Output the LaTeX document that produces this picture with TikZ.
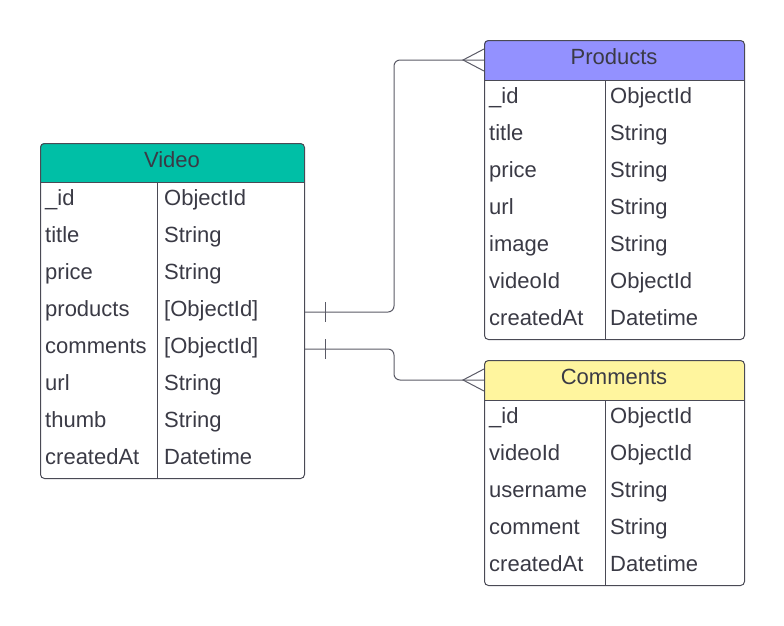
\documentclass[tikz,border=0pt]{standalone}
\usepackage{fontspec}
\setmainfont{Liberation Sans}
\usetikzlibrary{calc}
\definecolor{vidc}{HTML}{00BFA6}
\definecolor{prodc}{HTML}{9391FF}
\definecolor{comc}{HTML}{FFF59E}
\definecolor{txtc}{HTML}{3A3A45}
\definecolor{edgec}{HTML}{4A4A55}
\definecolor{connc}{HTML}{5A5A66}
\begin{document}
\begin{tikzpicture}[x=1pt,y=-1pt,
  font=\fontsize{22}{26}\selectfont,
  frame/.style={draw=edgec, line width=1pt, rounded corners=4pt, inner sep=0pt, anchor=north west},
  cell/.style={text=txtc, anchor=base west, inner sep=0pt, text height=16pt, text depth=5pt},
  hdrtext/.style={text=txtc, anchor=base, inner sep=0pt, text height=16pt, text depth=5pt},
  sep/.style={draw=edgec, line width=1pt},
  conn/.style={draw=connc, line width=1pt},
]
\useasboundingbox (0,0) rectangle (784,625);

% ---------- Video ----------
\fill[vidc, rounded corners=4pt] (40,143) rectangle (304,182);
\fill[vidc] (40,170) rectangle (304,182);
\node[frame, minimum width=264pt, minimum height=335pt] (videoT) at (40,143) {};
\node[hdrtext] (videoH) at (172,167) {Video};
\draw[sep] (40,182) -- (304,182);
\draw[sep] (157,182) -- (157,478);
\foreach \f/\t [count=\i] in {\_id/ObjectId, title/String, price/String, products/{[ObjectId]}, comments/{[ObjectId]}, url/String, thumb/String, createdAt/Datetime}{
  \node[cell] (video-f\i) at (45,{182+37*(\i-1)+23.5}) {\f};
  \node[cell] (video-t\i) at (164,{182+37*(\i-1)+23.5}) {\t};
}

% ---------- Products ----------
\fill[prodc, rounded corners=4pt] (484,40) rectangle (744,80);
\fill[prodc] (484,68) rectangle (744,80);
\node[frame, minimum width=260pt, minimum height=299pt] (prodT) at (484,40) {};
\node[hdrtext] (prodH) at (614,64) {Products};
\draw[sep] (484,80) -- (744,80);
\draw[sep] (605,80) -- (605,339);
\foreach \f/\t [count=\i] in {\_id/ObjectId, title/String, price/String, url/String, image/String, videoId/ObjectId, createdAt/Datetime}{
  \node[cell] (prod-f\i) at (489,{80+37*(\i-1)+23.5}) {\f};
  \node[cell] (prod-t\i) at (610,{80+37*(\i-1)+23.5}) {\t};
}

% ---------- Comments ----------
\fill[comc, rounded corners=4pt] (484,360) rectangle (744,400);
\fill[comc] (484,388) rectangle (744,400);
\node[frame, minimum width=260pt, minimum height=225pt] (comT) at (484,360) {};
\node[hdrtext] (comH) at (614,384) {Comments};
\draw[sep] (484,400) -- (744,400);
\draw[sep] (605,400) -- (605,585);
\foreach \f/\t [count=\i] in {\_id/ObjectId, videoId/ObjectId, username/String, comment/String, createdAt/Datetime}{
  \node[cell] (com-f\i) at (489,{400+37*(\i-1)+23.5}) {\f};
  \node[cell] (com-t\i) at (610,{400+37*(\i-1)+23.5}) {\t};
}

% ---------- Connectors ----------
\coordinate (s1) at (videoT.east |- 0,312);
\coordinate (s2) at (videoT.east |- 0,349);
\coordinate (e1) at ($(prodT.north west)+(0,20)$);
\coordinate (e2) at ($(comT.north west)+(0,20)$);
\coordinate (m1) at (394,312);
\coordinate (m2) at (394,349);

\draw[conn, rounded corners=6pt] (s1) -- (m1) |- (e1);
\draw[conn, rounded corners=6pt] (s2) -- (m2) |- (e2);

% one bars
\draw[conn] ($(s1)+(20,-10)$) -- ($(s1)+(20,10)$);
\draw[conn] ($(s2)+(20,-10)$) -- ($(s2)+(20,10)$);
% crow's feet
\draw[conn] ($(e1)+(0,-11)$) -- ($(e1)+(-21,0)$) -- ($(e1)+(0,11)$);
\draw[conn] ($(e2)+(0,-11)$) -- ($(e2)+(-21,0)$) -- ($(e2)+(0,11)$);
\end{tikzpicture}
\end{document}
